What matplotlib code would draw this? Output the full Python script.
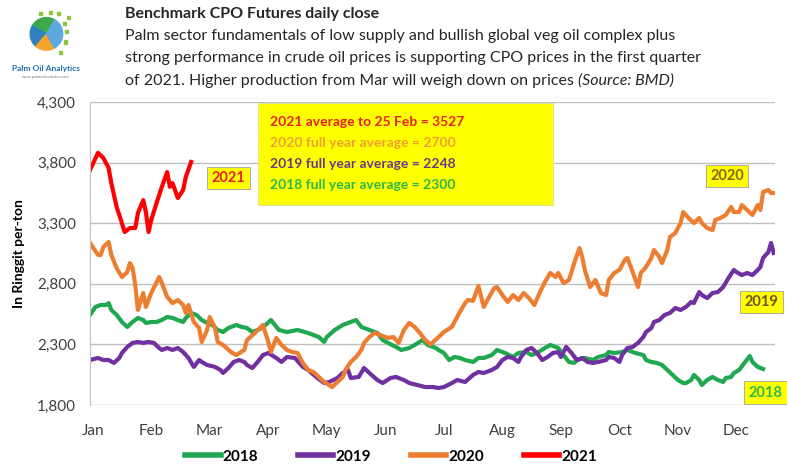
import numpy as np
import matplotlib
matplotlib.use("Agg")
import matplotlib.pyplot as plt
from matplotlib.patches import Rectangle, Wedge

plt.rcParams['font.family'] = ['Lato', 'DejaVu Sans']

# trading-day index within the year, CPO close (RM/t)
d2021 = [0, 3, 5, 7, 8, 10, 12, 13, 15, 17, 18, 20, 21, 22, 23, 25, 27, 29, 30, 31, 33, 35, 36, 38]
v2021 = [3739, 3881, 3838, 3755, 3631, 3434, 3300, 3227, 3260, 3260, 3384, 3490, 3392, 3227,
         3326, 3466, 3600, 3722, 3600, 3631, 3508, 3574, 3681, 3805]

d2020 = [0, 3, 4, 5, 7, 8, 10, 12, 14, 15, 16, 17, 18, 20, 21, 23, 26, 27, 29, 31, 33, 35, 36, 37,
         39, 41, 42, 44, 45, 47, 48, 50, 53, 55, 58, 59, 62, 65, 67, 68, 70, 72, 74, 76, 78, 80,
         82, 84, 86, 88, 91, 93, 95, 96, 98, 100, 102, 103, 105, 107, 109, 112, 114, 116, 118,
         120, 122, 124, 126, 128, 131, 133, 136, 138, 139, 141, 142, 144, 146, 148, 150, 152,
         153, 155, 157, 159, 161, 163, 165, 167, 169, 171, 173, 175, 176, 178, 180, 181, 182,
         184, 185, 186, 188, 190, 192, 194, 195, 197, 199, 201, 202, 204, 206, 207, 209, 211,
         212, 214, 215, 217, 218, 220, 222, 223, 225, 227, 229, 230, 232, 234, 235, 237, 239,
         241, 242, 244, 245, 247, 249, 251, 252, 253, 255, 256, 258]
v2020 = [3137, 3038, 3038, 3104, 3145, 3038, 2930, 2856, 2897, 2971, 2930, 2790, 2584, 2724,
         2609, 2724, 2856, 2806, 2691, 2641, 2666, 2625, 2559, 2625, 2485, 2435, 2320, 2419,
         2526, 2435, 2320, 2295, 2237, 2212, 2254, 2336, 2394, 2460, 2320, 2237, 2353, 2295,
         2254, 2237, 2229, 2147, 2089, 2072, 2031, 1990, 1948, 1990, 2031, 2089, 2155, 2196,
         2254, 2312, 2361, 2394, 2378, 2353, 2361, 2312, 2419, 2477, 2444, 2394, 2336, 2300,
         2360, 2402, 2444, 2526, 2567, 2641, 2666, 2660, 2782, 2609, 2691, 2765, 2773, 2707,
         2650, 2707, 2666, 2724, 2682, 2625, 2724, 2815, 2889, 2856, 2889, 2806, 2831, 2897,
         2971, 3095, 3021, 2914, 2773, 2831, 2724, 2707, 2831, 2889, 2914, 2996, 3013, 2897,
         2773, 2889, 2938, 3013, 3079, 3021, 2971, 3079, 3186, 3219, 3301, 3392, 3343, 3301,
         3343, 3301, 3260, 3243, 3326, 3343, 3368, 3434, 3392, 3392, 3450, 3409, 3368, 3450,
         3409, 3557, 3574, 3549, 3549]

d2019 = [0, 3, 5, 7, 9, 11, 12, 14, 16, 18, 20, 22, 24, 26, 27, 29, 31, 33, 35, 37, 39, 41, 42,
         44, 47, 49, 50, 52, 54, 56, 58, 59, 61, 63, 65, 67, 70, 72, 74, 77, 80, 82, 85, 88, 90,
         93, 95, 97, 98, 101, 103, 105, 108, 110, 113, 115, 118, 120, 123, 126, 129, 131, 133,
         136, 138, 141, 144, 146, 148, 151, 153, 155, 157, 159, 161, 162, 164, 166, 168, 170,
         172, 174, 176, 177, 179, 181, 183, 185, 187, 189, 191, 194, 195, 197, 199, 200, 202,
         204, 206, 208, 209, 211, 212, 214, 216, 218, 220, 222, 224, 226, 227, 229, 230, 232,
         234, 236, 238, 240, 242, 243, 245, 247, 249, 251, 252, 253, 255, 256, 257]
v2019 = [2171, 2188, 2171, 2171, 2147, 2188, 2229, 2279, 2312, 2320, 2312, 2320, 2312, 2270,
         2254, 2270, 2254, 2270, 2237, 2188, 2114, 2171, 2155, 2130, 2114, 2089, 2064, 2105,
         2155, 2171, 2155, 2130, 2105, 2155, 2212, 2229, 2188, 2155, 2196, 2188, 2114, 2089,
         2031, 1981, 1990, 2023, 2064, 2089, 2023, 2031, 2105, 2064, 2006, 1981, 2023, 2031,
         2006, 1981, 1965, 1948, 1948, 1940, 1948, 1981, 2006, 1990, 2048, 2072, 2064, 2089,
         2114, 2171, 2196, 2188, 2155, 2196, 2254, 2270, 2229, 2171, 2196, 2229, 2237, 2196,
         2279, 2229, 2171, 2188, 2155, 2147, 2155, 2171, 2196, 2188, 2155, 2212, 2270, 2279,
         2312, 2361, 2402, 2435, 2485, 2501, 2543, 2559, 2600, 2584, 2609, 2650, 2641, 2732,
         2707, 2682, 2724, 2732, 2773, 2848, 2914, 2897, 2872, 2889, 2872, 2914, 2938, 3013,
         3062, 3137, 3054]

d2018 = [0, 2, 4, 6, 7, 8, 10, 12, 14, 16, 18, 20, 21, 23, 25, 27, 29, 31, 33, 35, 36, 38, 40,
         42, 44, 46, 48, 50, 52, 53, 55, 57, 59, 61, 63, 65, 68, 71, 74, 78, 82, 86, 88, 89, 92,
         95, 98, 100, 102, 105, 108, 110, 112, 115, 117, 120, 122, 125, 127, 130, 131, 133, 135,
         137, 139, 141, 144, 146, 148, 151, 153, 156, 159, 161, 164, 166, 168, 171, 173, 175,
         176, 178, 180, 182, 183, 186, 189, 191, 194, 195, 197, 200, 202, 205, 208, 209, 211,
         213, 215, 217, 219, 221, 223, 224, 226, 227, 229, 230, 232, 234, 236, 238, 239, 241,
         242, 244, 246, 248, 249, 251, 253]
v2018 = [2543, 2609, 2625, 2625, 2641, 2584, 2543, 2485, 2444, 2485, 2518, 2501, 2477, 2485,
         2485, 2501, 2526, 2518, 2501, 2485, 2518, 2559, 2543, 2501, 2477, 2460, 2419, 2402,
         2435, 2444, 2460, 2444, 2435, 2402, 2419, 2440, 2501, 2419, 2402, 2419, 2394, 2361,
         2320, 2361, 2419, 2460, 2485, 2501, 2444, 2419, 2394, 2336, 2312, 2279, 2254, 2270,
         2295, 2336, 2295, 2270, 2254, 2229, 2171, 2196, 2188, 2171, 2155, 2188, 2188, 2212,
         2254, 2229, 2196, 2229, 2237, 2212, 2229, 2270, 2295, 2279, 2270, 2212, 2155, 2147,
         2171, 2188, 2171, 2196, 2212, 2237, 2229, 2237, 2254, 2229, 2212, 2171, 2155, 2147,
         2130, 2089, 2048, 2006, 1981, 1981, 2006, 2048, 2006, 1965, 2006, 2031, 2006, 1990,
         2023, 2031, 2064, 2089, 2147, 2204, 2155, 2114, 2097]

months = ['Jan', 'Feb', 'Mar', 'Apr', 'May', 'Jun', 'Jul', 'Aug', 'Sep', 'Oct', 'Nov', 'Dec']
month_start = [1, 23, 45, 67, 89, 111, 133, 155, 177, 199, 221, 243]

avg_lines = ['2021 average to 25 Feb = 3527', '2020 full year average = 2700',
             '2019 full year average = 2248', '2018 full year average = 2300']

c18, c19, c20, c21 = '#1FA84F', '#7030A0', '#ED7D31', '#FF0000'

fig = plt.figure(figsize=(7.87, 4.67), dpi=100)
ax = fig.add_axes([0.1144, 0.1328, 0.8704, 0.6488])

lw = 3.0
ax.plot(d2018, v2018, color=c18, lw=lw, label='2018', solid_joinstyle='round')
ax.plot(d2019, v2019, color=c19, lw=lw, label='2019', solid_joinstyle='round')
ax.plot(d2020, v2020, color=c20, lw=lw, label='2020', solid_joinstyle='round')
ax.plot(d2021, v2021, color=c21, lw=lw, label='2021', solid_joinstyle='round')

ax.set_xlim(0, 257.5)
ax.set_ylim(1800, 4300)
ax.set_yticks(range(1800, 4301, 500))
ax.set_yticklabels(['{:,}'.format(v) for v in range(1800, 4301, 500)])
ax.set_xticks(month_start)
ax.set_xticklabels(months)
ax.tick_params(length=0, labelsize=11, labelcolor='#404040', pad=10)
ax.tick_params(axis='x', pad=14)
ax.grid(axis='y', color='#BFBFBF', lw=1)
ax.set_axisbelow(True)
for s in ['top', 'right', 'bottom']:
    ax.spines[s].set_visible(False)
ax.spines['left'].set_color('#BFBFBF')
ax.set_ylabel('In Ringgit per-ton', fontsize=10, fontweight='bold', labelpad=9)

# averages box
ax.add_patch(Rectangle((0.245, 0.660), 0.431, 0.337, transform=ax.transAxes,
                       facecolor='#FFFF00', edgecolor='#E0E0A0', lw=0.8, zorder=5))
box_cols = ['#E8201A', '#F0A030', '#6A3A80', '#2DB84A']
for i, (t, c) in enumerate(zip(avg_lines, box_cols)):
    ax.text(0.262, 0.934 - i * 0.0693, t, transform=ax.transAxes, color=c,
            fontsize=10, fontweight='bold', va='center', zorder=6)

# year tags
tag_style = dict(fontsize=10.5, fontweight='bold', ha='center', va='center', zorder=6,
                 clip_on=False)
box_kw = dict(boxstyle='square,pad=0.3', facecolor='#FFFF00', edgecolor='#A0A0A0', lw=0.6)
ax.text(52, 3673, '2021', color='#E8201A', bbox=box_kw, **tag_style)
ax.text(239.5, 3690, '2020', color='#8A6410', bbox=box_kw, **tag_style)
ax.text(252.5, 2650, '2019', color='#705020', bbox=box_kw, **tag_style)
ax.text(254, 1900, '2018', color='#2DB84A', bbox=box_kw, **tag_style)

# titles
fig.text(0.159, 0.970, 'Benchmark CPO Futures daily close', fontsize=11.5,
         fontweight='bold', color='#262626', va='center')
sub = ['Palm sector fundamentals of low supply and bullish global veg oil complex plus',
       'strong performance in crude oil prices is supporting CPO prices in the first quarter',
       'of 2021. Higher production from Mar will weigh down on prices ']
sub_texts = []
for i, t in enumerate(sub):
    sub_texts.append(fig.text(0.159, 0.923 - i * 0.048, t, fontsize=11.5,
                              color='#262626', va='center'))
fig.canvas.draw()
ext = sub_texts[-1].get_window_extent()
fig.text(ext.x1 / fig.bbox.width, 0.923 - 2 * 0.048, '(Source: BMD)', fontsize=11.5,
         color='#262626', va='center', style='italic')

# logo
lax = fig.add_axes([0.028, 0.875, 0.062, 0.105])
lax.set_xlim(-1.2, 1.2)
lax.set_ylim(-1.2, 1.2)
lax.set_aspect('equal')
lax.axis('off')
lax.add_patch(Wedge((0, 0), 0.8, 60, 150, color='#3DAA4A'))
lax.add_patch(Wedge((0, 0), 0.8, 150, 230, color='#2F7FC1'))
lax.add_patch(Wedge((0, 0), 0.8, 230, 300, color='#F3A32A'))
lax.add_patch(Wedge((0, 0), 0.8, 300, 420, color='#5DA8DD'))
for px, py in [(0.9, 0.5), (1.0, 0.1), (0.6, 1.0), (0.2, 1.05), (-0.3, 1.0), (0.95, -0.4),
               (1.1, 0.8), (0.7, -0.9)]:
    lax.add_patch(Rectangle((px - 0.08, py - 0.08), 0.16, 0.16, color='#8CC63F'))
fig.text(0.058, 0.853, 'Palm Oil Analytics', fontsize=6, fontweight='bold',
         color='#1F6FB5', ha='center', va='center')
fig.text(0.058, 0.835, 'www.palmoilanalytics.com', fontsize=3, color='#808080',
         ha='center', va='center')

leg = fig.legend(loc='lower center', bbox_to_anchor=(0.497, -0.022), ncol=4, frameon=False,
                 prop={'weight': 'bold', 'size': 11}, handlelength=2.3, columnspacing=2.6,
                 handletextpad=0.15)
for h in leg.get_lines():
    h.set_linewidth(4)

fig.savefig('out.png', dpi=100)
